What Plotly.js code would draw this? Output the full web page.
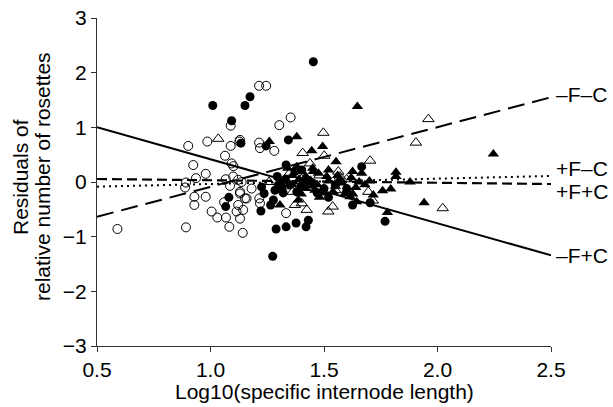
<!DOCTYPE html>
<html>
<head>
<meta charset="utf-8">
<script src="https://cdn.plot.ly/plotly-3.0.1.min.js"></script>
<style>html,body{margin:0;padding:0;background:#fff;}#chart{width:613px;height:407px;}</style>
</head>
<body>
<div id="chart"></div>
<script>
// Open circles
const openCircleX = [0.59,0.892,0.902,0.924,0.936,0.892,0.888,0.929,0.929,0.979,0.979,0.986,1.005,1.030,1.064,1.067,1.068,1.083,1.086,1.089,1.089,1.101,1.115,1.122,1.127,1.130,1.137,1.142,1.159,1.181,1.214,1.245,1.214,1.218,1.215,1.218,1.281,1.303,1.353,1.333,1.093,1.100,1.130,1.152,1.122,1.144,1.130,1.060,1.130];
const openCircleY = [-0.86,-0.83,0.66,0.31,0.07,-0.01,-0.10,-0.27,-0.42,0.15,-0.27,0.74,-0.54,-0.65,0.48,0.05,-0.65,-0.82,-0.07,1.03,0.66,0.29,-0.54,0.04,0.74,-0.21,0.00,-0.93,-0.30,-0.12,1.76,1.76,0.72,0.62,-0.30,-0.39,0.57,1.04,1.18,-0.57,0.34,0.10,-0.18,-0.30,-0.42,-0.51,-0.67,-0.37,0.77];
// Filled circles
const filledCircleX = [1.010,1.093,1.152,1.174,1.134,1.245,1.343,1.453,1.333,1.294,1.067,1.081,1.222,1.236,1.225,1.265,1.274,1.289,1.277,1.314,1.333,1.377,1.421,1.431,1.284,1.372,1.402,1.666,1.703,1.626,1.769,1.35,1.40,1.45,1.50,1.55,1.60,1.47,1.38,1.33,1.52,1.30,1.32,1.42];
const filledCircleY = [1.40,1.12,1.40,1.56,0.71,0.66,0.77,2.20,0.31,0.10,-0.45,-0.28,-0.53,-0.21,-0.09,-0.42,-1.36,-0.86,-0.33,-0.09,-0.82,-0.75,-0.82,-0.70,-0.15,0.19,0.22,0.28,-0.38,-0.42,-0.72,-0.05,-0.08,-0.02,-0.12,-0.05,-0.12,-0.20,-0.18,0.05,-0.28,-0.05,-0.20,0.00];
// Open triangles
const openTriX = [1.034,1.497,1.406,1.501,1.563,1.570,1.438,1.350,1.424,1.402,1.372,1.519,1.538,1.362,1.905,1.960,1.703,1.695,1.715,2.023,1.258,1.40,1.45,1.55,1.62,1.60,1.48,1.33];
const openTriY = [0.79,0.90,0.53,0.48,0.19,0.10,0.34,0.17,-0.51,-0.39,-0.42,-0.54,-0.45,-0.18,0.72,1.15,0.39,-0.18,-0.34,-0.48,0.00,0.05,-0.10,-0.15,-0.20,0.05,0.12,-0.08];
// Filled triangles
const filledTriX = [1.259,1.380,1.446,1.494,1.553,1.453,1.475,1.512,1.626,1.666,1.817,1.817,1.879,1.655,1.758,1.794,1.717,1.941,1.779,1.593,1.615,1.644,1.647,2.246,1.306,1.387,1.626,1.33,1.36,1.39,1.42,1.44,1.47,1.50,1.52,1.55,1.58,1.60,1.42,1.36,1.48,1.40,1.57,1.64,1.68,1.70,1.34,1.38,1.45,1.52,1.56,1.62,1.46,1.54];
const filledTriY = [0.74,0.83,0.57,0.65,0.37,0.19,0.16,0.10,0.19,0.16,0.18,0.10,0.00,0.00,-0.16,-0.13,-0.24,-0.38,-0.56,-0.21,-0.27,-0.36,1.38,0.51,-0.42,-0.33,-0.22,0.02,-0.05,0.05,-0.12,0.03,-0.05,-0.20,0.02,-0.08,-0.02,-0.15,0.10,0.12,-0.28,-0.22,0.05,-0.10,-0.05,0.02,0.25,0.28,0.25,0.22,0.12,0.08,-0.15,-0.18];
// Fitted lines (endpoints at x = 0.5 and 2.5)
const lineX = [0.5, 2.5];
const lineMFpC = [1.00, -1.34];   // −F+C
const lineMFmC = [-0.635, 1.55];  // −F−C
const linePFpC = [0.055, -0.037]; // +F+C
const linePFmC = [-0.085, 0.11];  // +F−C
const lineLabels = ['\u2013F\u2013C', '+F\u2013C', '+F+C', '\u2013F+C'];
const labelY = [1.60, 0.25, -0.17, -1.34];

const xTicks = [0.5, 1.0, 1.5, 2.0, 2.5];
const xTickText = ['0.5', '1.0', '1.5', '2.0', '2.5'];
const yTicks = [-3, -2, -1, 0, 1, 2, 3];
const xTitle = 'Log10(specific internode length)';
const yTitleLines = ['Residuals of', 'relative number of rosettes'];

const FONT = 'Liberation Sans, Arial, Helvetica, sans-serif';
const FS = 21;

const traces = [
  {x: openCircleX, y: openCircleY, mode: 'markers', type: 'scatter', cliponaxis: false,
   marker: {symbol: 'circle-open', size: 9, color: '#000', line: {width: 1, color: '#000'}}},
  {x: filledCircleX, y: filledCircleY, mode: 'markers', type: 'scatter', cliponaxis: false,
   marker: {symbol: 'circle', size: 9, color: '#000'}},
  {x: openTriX, y: openTriY, mode: 'markers', type: 'scatter', cliponaxis: false,
   marker: {symbol: 'triangle-up-open', size: 10, color: '#000', line: {width: 1, color: '#000'}}},
  {x: filledTriX, y: filledTriY, mode: 'markers', type: 'scatter', cliponaxis: false,
   marker: {symbol: 'triangle-up', size: 10, color: '#000'}},
  {x: lineX, y: lineMFpC, mode: 'lines', type: 'scatter', line: {color: '#000', width: 2}},
  {x: lineX, y: lineMFmC, mode: 'lines', type: 'scatter', line: {color: '#000', width: 2, dash: '17px,8px'}},
  {x: lineX, y: linePFpC, mode: 'lines', type: 'scatter', line: {color: '#000', width: 2.2, dash: '10px,5px'}},
  {x: lineX, y: linePFmC, mode: 'lines', type: 'scatter', line: {color: '#000', width: 2, dash: '2px,4px'}}
];

const annotations = lineLabels.map((t, i) => ({
  x: 2.5, y: labelY[i], xref: 'x', yref: 'y', text: t, showarrow: false,
  xanchor: 'left', yanchor: 'middle', xshift: 3, font: {family: FONT, size: FS, color: '#000'}
}));
annotations.push({
  xref: 'paper', yref: 'paper', x: 0, y: 0.5, xshift: -77, yshift: 5, textangle: -90,
  text: yTitleLines[0], showarrow: false, xanchor: 'center', yanchor: 'middle',
  font: {family: FONT, size: FS, color: '#000'}
});
annotations.push({
  xref: 'paper', yref: 'paper', x: 0, y: 0.5, xshift: -55, yshift: 5, textangle: -90,
  text: yTitleLines[1], showarrow: false, xanchor: 'center', yanchor: 'middle',
  font: {family: FONT, size: FS, color: '#000'}
});
annotations.push({
  xref: 'paper', yref: 'paper', x: 0.5, y: 0, yshift: -45, text: xTitle, showarrow: false,
  xanchor: 'center', yanchor: 'middle', font: {family: FONT, size: FS, color: '#000'}
});

const layout = {
  width: 613, height: 407,
  margin: {l: 97, r: 62, t: 18, b: 61},
  paper_bgcolor: '#fff', plot_bgcolor: '#fff',
  showlegend: false,
  font: {family: FONT, size: FS, color: '#000'},
  xaxis: {
    range: [0.5, 2.5], tickvals: xTicks, ticktext: xTickText,
    showline: true, linecolor: '#333', linewidth: 1,
    ticks: 'outside', ticklen: 5, tickcolor: '#333', showgrid: false, zeroline: false,
    tickfont: {family: FONT, size: FS, color: '#000'}
  },
  yaxis: {
    range: [-3, 3], tickvals: yTicks,
    showline: true, linecolor: '#333', linewidth: 1,
    ticks: 'outside', ticklen: 5, tickcolor: '#333', showgrid: false, zeroline: false,
    tickfont: {family: FONT, size: FS, color: '#000'}
  },
  annotations: annotations
};

Plotly.newPlot('chart', traces, layout, {displayModeBar: false, staticPlot: true});
</script>
</body>
</html>
